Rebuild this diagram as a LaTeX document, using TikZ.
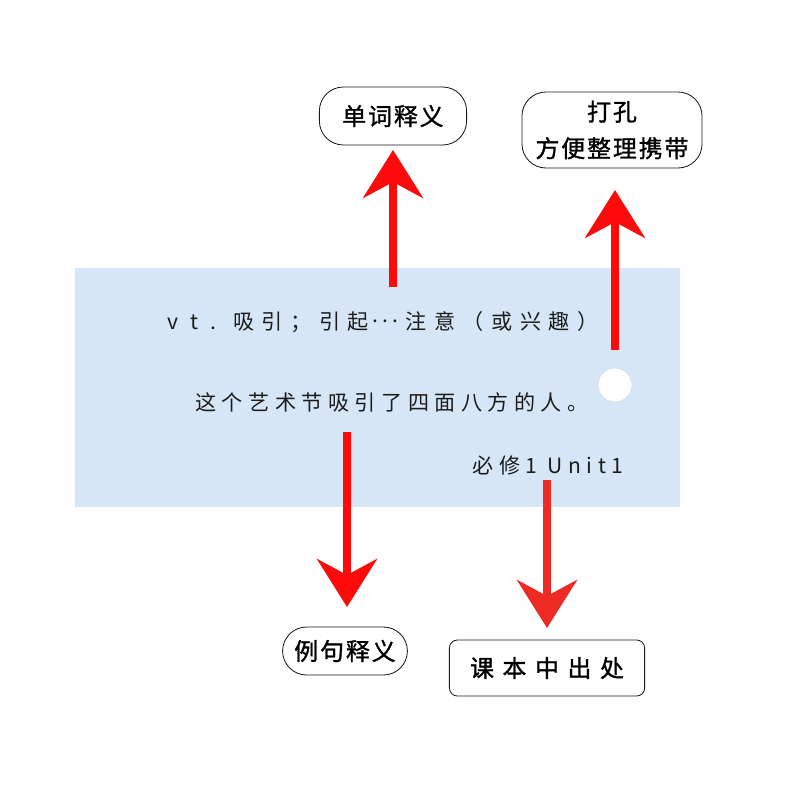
\documentclass[tikz,border=0pt]{standalone}
\usepackage{fontspec}
\setmainfont{Noto Sans CJK SC}
\newfontfamily\cardfont{Noto Sans CJK SC}[LetterSpace=26]
\newfontfamily\tagfont{Noto Sans CJK SC}[LetterSpace=8, FakeBold=1.2]
\usetikzlibrary{arrows.meta,positioning}
\definecolor{cdCard}{HTML}{D6E6F6}
\definecolor{cdRed}{HTML}{FF0A0A}
\definecolor{cdRedSoft}{HTML}{EE2A24}
\definecolor{cdInk}{HTML}{1C1C1C}
\definecolor{cdHole}{HTML}{FFFFFF}
\newcommand\cdDots{\kern.15em\raisebox{.32em}{.\kern.2em.\kern.2em.}\kern.35em}
\tikzset{
  cd card/.style={fill=cdCard},
  cd line/.style={font=\cardfont\fontsize{15}{17}\selectfont, text=cdInk, inner sep=0pt},
  cd tag/.style={draw=cdInk, line width=.6pt, fill=white, align=center,
    font=\tagfont\fontsize{17}{26}\selectfont, text=black, inner sep=0pt},
  cd pill/.style={cd tag, rounded corners=.6cm},
  cd pointer/.style={
    draw=cdRed,
    line width=.18cm,
    -{Stealth[length=1.2cm,width=1.5cm,inset=.4cm]}
  }
}
\begin{document}
\begin{tikzpicture}[x=.025cm,y=-.025cm]
  \useasboundingbox[fill=white] (0,0) rectangle (800,800);
  % the card
  \path[cd card] (75,268) rectangle (680,507);
  \node[circle, fill=cdHole, draw=cdCard!80!gray, line width=.3pt, minimum size=.85cm, inner sep=0pt] (hole) at (615,385) {};
  \node[cd line, font=\cardfont\fontsize{15}{17}\selectfont\addfontfeature{LetterSpace=36}] (sense) at (383,322) {v t . 吸引；引起\cdDots 注意（或兴趣）};
  \node[cd line] (example) at (392,402) {这个艺术节吸引了四面八方的人。};
  \node[cd line] (source) at (548,465) {必修1 Unit1};

  % tags
  \node[cd pill, minimum width=3.68cm, minimum height=1.45cm] (meaning) at (393,116) {单词释义};
  \node[cd tag, rounded corners=.6cm, minimum width=4.5cm, minimum height=1.9cm] (punch) at (612,130) {打孔\\方便整理携带};
  \node[cd pill, minimum width=3.12cm, minimum height=1.2cm] (sentence) at (345,651) {例句释义};
  \node[cd tag, rounded corners=.2cm, minimum width=4.88cm, minimum height=1.4cm] (textbook) at (547,668) {\addfontfeature{LetterSpace=36}课本中出处};

  % pointers
  \coordinate (meaning tip) at (393,150);
  \coordinate (punch tip) at (615,190);
  \coordinate (sentence tip) at (347,607);
  \coordinate (textbook tip) at (547,628);
  \draw[cd pointer] (393,287) -- (meaning tip);
  \draw[cd pointer] (615,350) -- (punch tip);
  \draw[cd pointer] (347,432) -- (sentence tip);
  \draw[cd pointer, draw=cdRedSoft] (547,480) -- (textbook tip);
\end{tikzpicture}
\end{document}
